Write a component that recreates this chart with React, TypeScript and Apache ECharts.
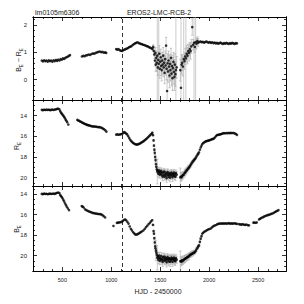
import React, { useEffect, useRef } from "react";
import * as echarts from "echarts";

const titleLeft = "lm0105m6306";
const titleRight = "EROS2-LMC-RCB-2";
const xTitle = "HJD - 2450000";
const dashHjd = 1110;

const xMajor = [500, 1000, 1500, 2000, 2500];
const xMinor = [300, 400, 600, 700, 800, 900, 1100, 1200, 1300, 1400, 1600, 1700, 1800, 1900, 2100, 2200, 2300, 2400, 2600, 2700];
const colorMajor = [0, 1, 2];
const colorMinor = [-0.6, -0.4, -0.2, 0.2, 0.4, 0.6, 0.8, 1.2, 1.4, 1.6, 1.8, 2.2];
const rMajor = [14, 16, 18, 20];
const rMinor = [12.5, 13, 13.5, 14.5, 15, 15.5, 16.5, 17, 17.5, 18.5, 19, 19.5, 20.5];
const bMajor = [14, 16, 18, 20];
const bMinor = [13.5, 14.5, 15, 15.5, 16.5, 17, 17.5, 18.5, 19, 19.5, 20.5, 21, 21.5];

// Colour index B_E - R_E (points without visible errors)
const colorPts = [
  [290, .70], [302, .67], [314, .71], [326, .68], [338, .70], [350, .66], [362, .71], [374, .68], [386, .70], [398, .66],
  [410, .71], [422, .68], [434, .72], [446, .69], [458, .73], [470, .70], [482, .75], [494, .73], [506, .78], [518, .76],
  [530, .80], [542, .82], [554, .84], [566, .87], [578, .90],
  [700, .85], [714, .87], [728, .86], [742, .89], [756, .90], [770, .92], [784, .91], [798, .94], [812, .96], [826, .95],
  [840, .98], [854, 1.00], [868, 1.02], [882, 1.03], [896, 1.01], [910, 1.02], [924, .99], [938, 1.00], [948, .98],
  [1050, 1.12], [1062, 1.10], [1074, 1.12], [1086, 1.08], [1098, 1.06], [1110, 1.05], [1122, 1.08], [1134, 1.10], [1146, 1.12],
  [1158, 1.14], [1170, 1.16], [1182, 1.19], [1194, 1.21], [1206, 1.23], [1218, 1.27], [1230, 1.30], [1242, 1.33], [1254, 1.35],
  [1266, 1.37], [1278, 1.35], [1290, 1.33], [1302, 1.31], [1314, 1.30], [1326, 1.28], [1338, 1.27], [1350, 1.25], [1362, 1.23],
  [1374, 1.22], [1386, 1.19], [1398, 1.17], [1410, 1.15], [1420, 1.12],
  [1900, 1.38], [1912, 1.40], [1924, 1.37], [1936, 1.39], [1948, 1.36], [1960, 1.38], [1972, 1.40], [1984, 1.37], [1996, 1.36],
  [2008, 1.38], [2020, 1.35], [2032, 1.37], [2044, 1.34], [2056, 1.36], [2068, 1.33], [2080, 1.35], [2092, 1.32], [2104, 1.34],
  [2116, 1.36], [2128, 1.33], [2140, 1.31], [2152, 1.34], [2164, 1.32], [2176, 1.35], [2188, 1.33], [2200, 1.31], [2212, 1.34],
  [2224, 1.32], [2236, 1.35], [2248, 1.33], [2260, 1.31], [2272, 1.34], [2284, 1.33],
];
// [HJD, B_E - R_E, error]
const colorErrPts = [
  [1428, 1.20, .08], [1434, 1.05, .12], [1440, .92, .15], [1446, .70, .2], [1450, .98, .2], [1455, .55, .25], [1460, .80, .25],
  [1465, .62, .3], [1470, .88, 2.6], [1475, .45, .3], [1480, .72, .3], [1485, .58, 2.6], [1490, .95, .3], [1495, .40, .35],
  [1500, .66, .3], [1505, .82, .3], [1510, .50, .35], [1515, .35, .4], [1520, .70, .3], [1525, .55, .35], [1530, .88, .3],
  [1535, .45, .35], [1540, .62, .3], [1545, .25, .4], [1550, .75, .3], [1555, .52, .35], [1560, 1.25, .3], [1565, .40, .4],
  [1570, -.42, .4], [1575, .60, .35], [1580, .30, .4], [1585, .70, .35], [1590, .48, .4], [1595, .15, .45], [1600, .58, .35],
  [1605, .35, .4], [1610, .80, .35], [1615, .22, .45], [1620, .50, .4], [1625, .05, .45], [1630, .42, .4], [1635, .65, .35],
  [1640, .28, .45], [1645, .10, .5], [1650, .55, .4], [1655, .20, .45], [1660, .35, 2.6], [1668, .45, .4],
  [1705, .35, .4], [1712, -.30, 2.6], [1718, .55, .35], [1725, .62, .3], [1732, .48, .35], [1740, .75, 2.6], [1748, .68, .3],
  [1755, .85, .3], [1762, .78, 2.6], [1770, .95, .3], [1778, .88, .3], [1786, 1.05, .25], [1794, .98, .3], [1802, 1.12, .25],
  [1810, 1.05, .3], [1818, 1.22, .25], [1827, 1.93, .3], [1836, 1.28, .2], [1845, 1.35, 2.6], [1853, 1.20, .2], [1862, 1.38, 2.6],
  [1870, 1.32, .2], [1880, 1.42, .15], [1888, 1.36, .15],
];

// R_E magnitude
const rPts = [
  [290, 13.45], [302, 13.48], [314, 13.44], [326, 13.47], [338, 13.43], [350, 13.46], [362, 13.44], [374, 13.48], [386, 13.45],
  [398, 13.43], [410, 13.46], [422, 13.42], [434, 13.40], [446, 13.36], [458, 13.34], [470, 13.40], [478, 13.58], [486, 13.72],
  [494, 13.82], [502, 13.92], [510, 14.02], [518, 14.12], [526, 14.25], [534, 14.40], [542, 14.52], [550, 14.65], [561, 14.87],
  [653, 14.42], [663, 14.48], [673, 14.52], [683, 14.58], [693, 14.62], [703, 14.68], [713, 14.72], [723, 14.78], [733, 14.82],
  [743, 14.86], [753, 14.90], [763, 14.93], [773, 14.96], [783, 14.98], [795, 15.02], [807, 15.05], [819, 15.05], [831, 15.07],
  [843, 15.06], [855, 15.10], [867, 15.12], [879, 15.12], [891, 15.15], [903, 15.20], [915, 15.26], [927, 15.33], [939, 15.42],
  [950, 15.55],
  [1050, 15.84], [1062, 15.82], [1074, 15.85], [1086, 15.83], [1098, 15.80], [1110, 15.78], [1122, 15.68], [1132, 15.60],
  [1142, 15.66], [1152, 15.74], [1162, 15.82], [1172, 15.98], [1182, 16.15], [1192, 16.32], [1202, 16.45], [1212, 16.55],
  [1222, 16.63], [1232, 16.70], [1242, 16.75], [1252, 16.79], [1262, 16.80], [1272, 16.78], [1282, 16.74], [1292, 16.70],
  [1302, 16.64], [1312, 16.58], [1322, 16.52], [1332, 16.46], [1342, 16.38], [1352, 16.30], [1362, 16.22], [1372, 16.12],
  [1382, 16.03], [1392, 15.94], [1402, 15.84], [1412, 15.74], [1420, 15.66],
  [1896, 17.55], [1905, 17.30], [1914, 17.08], [1922, 16.90], [1930, 16.75], [1940, 16.65], [1950, 16.58], [1960, 16.52],
  [1970, 16.48], [1980, 16.45], [1990, 16.42], [2000, 16.40], [2010, 16.36], [2020, 16.32], [2030, 16.28], [2040, 16.25],
  [2050, 16.20], [2060, 16.10], [2070, 15.98], [2080, 15.88], [2090, 15.86], [2100, 15.85], [2110, 15.82], [2120, 15.80],
  [2130, 15.76], [2140, 15.72], [2152, 15.70], [2164, 15.71], [2176, 15.69], [2188, 15.70], [2200, 15.68], [2212, 15.70],
  [2224, 15.67], [2236, 15.69], [2248, 15.68], [2260, 15.72], [2272, 15.78], [2284, 15.86],
];
// [HJD, R_E, error]
const rErrPts = [
  [1426, 15.9, .05], [1432, 16.4, .08], [1436, 16.9, .1], [1440, 17.3, .12], [1444, 17.6, .15], [1448, 18.0, .18], [1452, 18.3, .2],
  [1456, 18.7, .25], [1460, 18.95, .25], [1465, 19.2, .3], [1470, 19.4, 1.2], [1475, 19.3, .3], [1480, 19.6, .35], [1485, 19.45, .3],
  [1490, 19.3, .3], [1495, 19.7, .35], [1500, 19.45, .3], [1505, 19.6, .3], [1510, 19.35, .3], [1515, 19.75, .35], [1520, 19.5, .3],
  [1525, 19.9, .4], [1530, 19.5, .3], [1535, 19.75, .3], [1540, 19.4, .3], [1545, 19.9, .35], [1550, 19.65, .3], [1555, 19.5, .3],
  [1560, 19.8, .35], [1565, 20.05, .4], [1570, 19.6, .3], [1575, 19.45, .3], [1580, 19.75, .35], [1585, 19.9, .35], [1590, 19.55, .3],
  [1595, 19.7, .3], [1600, 20.0, .4], [1605, 19.6, .3], [1610, 19.8, .35], [1615, 19.5, .3], [1620, 19.7, .3], [1625, 19.95, .4],
  [1630, 19.6, .3], [1635, 19.75, .35], [1640, 19.5, .3], [1645, 19.85, .35], [1650, 19.65, .3], [1655, 19.9, .35], [1660, 19.55, .3],
  [1668, 19.7, .3],
  [1705, 19.97, .9], [1712, 19.9, .4], [1718, 19.95, .35], [1725, 19.82, .35], [1732, 19.75, .3], [1740, 19.7, .3], [1748, 19.55, .3],
  [1755, 19.5, .3], [1762, 19.38, .3], [1770, 19.3, .25], [1778, 19.2, .25], [1786, 19.1, .25], [1794, 19.0, .2], [1802, 18.9, .2],
  [1810, 18.78, .2], [1818, 18.65, .2], [1827, 18.52, .18], [1836, 18.4, .15], [1845, 18.3, .15], [1853, 18.2, .12], [1862, 18.1, .12],
  [1870, 17.95, .1], [1880, 17.8, .1], [1888, 17.68, .08],
];

// B_E magnitude
const bPts = [
  [290, 13.97], [302, 13.99], [314, 13.95], [326, 13.98], [338, 13.96], [350, 14.00], [362, 13.97], [374, 13.95], [386, 13.98],
  [398, 13.96], [410, 13.94], [422, 13.97], [434, 13.92], [446, 13.86], [458, 13.84], [470, 13.90], [478, 14.08], [486, 14.18],
  [494, 14.28], [502, 14.40], [510, 14.55], [518, 14.70], [527, 14.89], [536, 15.05], [545, 15.22], [556, 15.38], [568, 15.55],
  [698, 15.16], [708, 15.22], [718, 15.30], [732, 15.48], [745, 15.55], [758, 15.62], [770, 15.68], [783, 15.72], [796, 15.78],
  [809, 15.82], [822, 15.85], [835, 15.88], [848, 15.90], [861, 15.92], [874, 15.94], [886, 15.95], [898, 15.98], [910, 16.05],
  [922, 16.15], [937, 16.27],
  [1022, 17.10], [1057, 16.80], [1068, 16.78], [1080, 16.76], [1092, 16.74], [1104, 16.70], [1116, 16.62], [1128, 16.52],
  [1142, 16.47], [1152, 16.55], [1164, 16.70], [1176, 16.87], [1188, 17.15], [1200, 17.38], [1210, 17.53], [1222, 17.70],
  [1234, 17.82], [1244, 17.92], [1256, 17.95], [1268, 17.90], [1278, 17.85], [1290, 17.78], [1302, 17.70], [1314, 17.62],
  [1329, 17.53], [1342, 17.38], [1355, 17.22], [1368, 17.08], [1381, 16.93], [1394, 16.80], [1406, 16.66], [1418, 16.54],
  [1930, 17.85], [1940, 17.75], [1952, 17.65], [1964, 17.60], [1976, 17.52], [1988, 17.45], [2000, 17.40], [2015, 17.36],
  [2028, 17.25], [2040, 17.15], [2052, 17.08], [2066, 17.03], [2080, 16.95], [2092, 16.90], [2104, 16.87], [2116, 16.86],
  [2128, 16.88], [2140, 16.85], [2152, 16.87], [2164, 16.84], [2176, 16.88], [2188, 16.86], [2200, 16.83], [2212, 16.87],
  [2224, 16.85], [2236, 16.88], [2248, 16.86], [2260, 16.84], [2272, 16.88], [2284, 16.90], [2305, 16.92], [2318, 16.95],
  [2330, 16.97], [2342, 16.93], [2355, 16.98], [2368, 17.00], [2380, 16.96], [2394, 17.02], [2407, 17.04],
  [2452, 16.78], [2462, 16.77], [2474, 16.79], [2486, 16.76],
  [2510, 16.47], [2520, 16.40], [2530, 16.33], [2544, 16.27], [2556, 16.22], [2568, 16.15], [2582, 16.10], [2595, 16.05],
  [2608, 16.02], [2620, 15.98], [2634, 15.93], [2646, 15.88], [2660, 15.82], [2672, 15.74], [2684, 15.68], [2696, 15.62],
  [2708, 15.55],
];
// [HJD, B_E, error]
const bErrPts = [
  [1426, 17.0, .05], [1432, 17.6, .08], [1436, 17.85, .1], [1440, 18.3, .12], [1444, 18.7, .15], [1448, 19.1, .2], [1452, 19.3, .25],
  [1456, 19.5, 1.0], [1460, 19.7, .3], [1465, 19.9, .35], [1470, 20.2, 1.2], [1475, 20.05, .35], [1480, 20.4, .4], [1485, 20.2, .35],
  [1490, 20.0, .35], [1495, 20.5, .4], [1500, 20.25, .35], [1505, 20.35, .35], [1510, 20.05, .35], [1515, 20.45, .4], [1520, 20.3, .35],
  [1525, 20.6, .45], [1530, 20.15, .35], [1535, 20.4, .35], [1540, 20.1, .35], [1545, 20.5, .4], [1550, 20.3, .35], [1555, 20.2, .35],
  [1560, 20.45, .4], [1565, 20.65, .45], [1570, 20.3, .35], [1575, 20.15, .35], [1580, 20.4, .4], [1585, 20.55, .4], [1590, 20.25, .35],
  [1595, 20.35, .35], [1600, 20.6, .45], [1605, 20.3, .35], [1610, 20.45, .4], [1615, 20.2, .35], [1620, 20.35, .35], [1625, 20.6, .45],
  [1630, 20.3, .35], [1635, 20.4, .4], [1640, 20.2, .35], [1645, 20.5, .4], [1650, 20.35, .35], [1655, 20.55, .4], [1660, 20.25, .35],
  [1668, 20.4, .35],
  [1705, 20.55, 1.0], [1712, 20.5, .4], [1718, 20.6, .4], [1725, 20.45, .4], [1732, 20.5, .35], [1740, 20.4, .35], [1748, 20.35, .35],
  [1755, 20.3, .35], [1762, 20.25, .3], [1770, 20.2, .3], [1778, 20.15, .3], [1786, 20.1, .3], [1794, 20.05, .3], [1802, 19.95, .25],
  [1810, 19.9, .25], [1818, 19.85, .25], [1827, 19.8, .25], [1836, 19.75, .25], [1845, 19.7, .2], [1853, 19.65, .2], [1862, 19.55, .2],
  [1870, 19.4, .2], [1880, 19.25, .15], [1888, 19.1, .15], [1896, 19.0, .12], [1905, 18.65, .1], [1913, 18.35, .1], [1922, 18.1, .08],
];

const FONT = "Liberation Sans, Arial, sans-serif";
const TEXT = "#222";
const X_MIN = 200;
const X_MAX = 2785;

const panels = [
  { top: 17, height: 83, min: -0.75, max: 2.3, inverse: false, major: colorMajor, minor: colorMinor, pts: colorPts, err: colorErrPts },
  { top: 100, height: 86, min: 12.5, max: 20.8, inverse: true, major: rMajor, minor: rMinor, pts: rPts, err: rErrPts },
  { top: 186, height: 85, min: 13.2, max: 21.5, inverse: true, major: bMajor, minor: bMinor, pts: bPts, err: bErrPts },
];

const renderErr = (params: any, api: any) => {
  const cs = params.coordSys;
  const x = api.value(0);
  const a = api.coord([x, api.value(1)]);
  const b = api.coord([x, api.value(2)]);
  const top = cs.y;
  const bot = cs.y + cs.height;
  let y1 = Math.min(a[1], b[1]);
  let y2 = Math.max(a[1], b[1]);
  const cap1 = y1 >= top;
  const cap2 = y2 <= bot;
  y1 = Math.max(y1, top);
  y2 = Math.min(y2, bot);
  const st = { stroke: "#a8a8a8", lineWidth: 0.6 };
  const children: any[] = [{ type: "line", shape: { x1: a[0], y1, x2: a[0], y2 }, style: st }];
  if (cap1) children.push({ type: "line", shape: { x1: a[0] - 1.2, y1, x2: a[0] + 1.2, y2: y1 }, style: st });
  if (cap2) children.push({ type: "line", shape: { x1: a[0] - 1.2, y1: y2, x2: a[0] + 1.2, y2 }, style: st });
  return { type: "group", children };
};

function buildOption() {
  const grid: any[] = [];
  const xAxis: any[] = [];
  const yAxis: any[] = [];
  const series: any[] = [];
  const line = { show: true, onZero: false, lineStyle: { color: "#000", width: 1 } };
  panels.forEach((p, g) => {
    grid.push({ left: 33, right: 18, top: p.top, height: p.height });
    const xBase = xAxis.length;
    const mkX = (pos: string, ticks: number[], len: number, labels: boolean) => ({
      type: "value", gridIndex: g, position: pos, min: X_MIN, max: X_MAX,
      axisLine: line,
      axisTick: { show: true, inside: true, length: len, customValues: ticks, lineStyle: { color: "#000", width: 0.8 } },
      axisLabel: labels
        ? { show: true, customValues: xMajor, formatter: (v: number) => String(v), fontSize: 5.5, margin: 6, color: TEXT, fontFamily: FONT }
        : { show: false },
      splitLine: { show: false },
    });
    xAxis.push(mkX("bottom", xMajor, 4, g === 2), mkX("bottom", xMinor, 2, false), mkX("top", xMajor, 4, false), mkX("top", xMinor, 2, false));
    const yBase = yAxis.length;
    const mkY = (pos: string, ticks: number[], len: number, labels: boolean) => ({
      type: "value", gridIndex: g, position: pos, min: p.min, max: p.max, inverse: p.inverse,
      axisLine: line,
      axisTick: { show: true, inside: true, length: len, customValues: ticks, lineStyle: { color: "#000", width: 0.8 } },
      axisLabel: labels
        ? { show: true, customValues: p.major, formatter: (v: number) => String(v), fontSize: 6, margin: 6, color: TEXT, fontFamily: FONT }
        : { show: false },
      splitLine: { show: false },
    });
    yAxis.push(mkY("left", p.major, 4, true), mkY("left", p.minor, 2, false), mkY("right", p.major, 4, false), mkY("right", p.minor, 2, false));

    series.push({
      type: "custom", xAxisIndex: xBase, yAxisIndex: yBase, silent: true, z: 1,
      encode: { x: 0, y: [1, 2] },
      data: p.err.map(([x, v, e]) => [x, v - e, v + e]),
      renderItem: renderErr,
    });
    series.push({
      type: "scatter", xAxisIndex: xBase, yAxisIndex: yBase, z: 3, silent: true,
      symbolSize: 2.6, itemStyle: { color: "#000" },
      data: p.pts,
      markLine: {
        silent: true, symbol: "none", label: { show: false },
        lineStyle: { color: "#000", type: [4, 3], width: 0.8 },
        data: [{ xAxis: dashHjd }],
      },
    });
    series.push({
      type: "scatter", xAxisIndex: xBase, yAxisIndex: yBase, z: 3, silent: true,
      symbolSize: 2.6, itemStyle: { color: "#000" },
      data: p.err.map(([x, v]) => [x, v]),
    });
  });

  const main = { fontSize: 7, fontFamily: FONT, fill: TEXT, lineHeight: 9, verticalAlign: "bottom" };
  const sub = { fontSize: 4.5, fontFamily: FONT, fill: TEXT, lineHeight: 9, verticalAlign: "bottom", padding: [0, 0, -2, 0] };
  const yName = (x: number, y: number, text: string) => ({
    type: "text", x, y, rotation: Math.PI / 2,
    style: { text, align: "center", verticalAlign: "middle", fill: TEXT, rich: { m: main, s: sub } },
  });

  return {
    animation: false,
    backgroundColor: "#fff",
    grid, xAxis, yAxis, series,
    graphic: [
      { type: "text", x: 35, y: 15.5, style: { text: titleLeft, fontSize: 7, fontFamily: FONT, fill: TEXT, align: "left", verticalAlign: "bottom" } },
      { type: "text", x: 159, y: 15.5, style: { text: titleRight, fontSize: 7, fontFamily: FONT, fill: TEXT, align: "center", verticalAlign: "bottom" } },
      { type: "text", x: 158, y: 291, style: { text: xTitle, fontSize: 7, fontFamily: FONT, fill: TEXT, align: "center", verticalAlign: "middle" } },
      yName(17, 60, "{m|B}{s|E}{m| − R}{s|E}"),
      yName(15, 146, "{m|R}{s|E}"),
      yName(15, 229, "{m|B}{s|E}"),
    ],
  };
}

export default function App() {
  const ref = useRef<HTMLDivElement>(null);
  useEffect(() => {
    if (!ref.current) return;
    const chart = echarts.init(ref.current, undefined, { renderer: "svg" });
    chart.setOption(buildOption() as any);
    return () => chart.dispose();
  }, []);
  return <div ref={ref} style={{ position: "fixed", left: 0, top: 0, width: 304, height: 304, background: "#fff" }} />;
}
